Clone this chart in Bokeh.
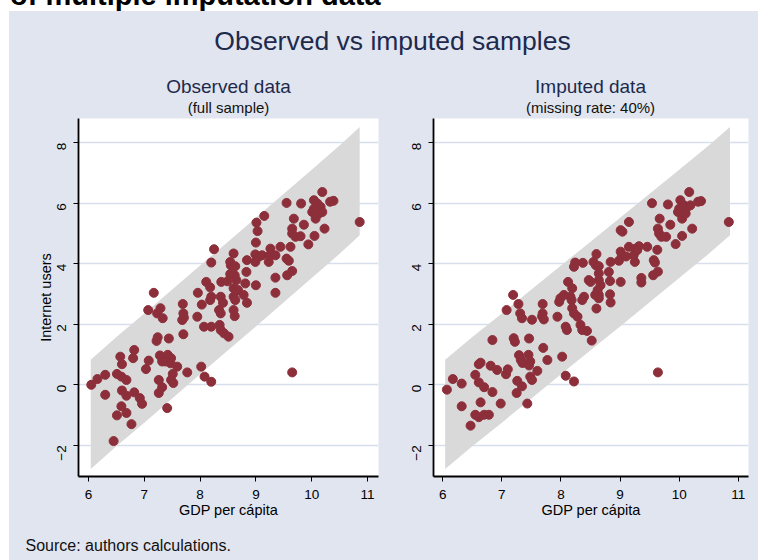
import math
from bokeh.plotting import figure
from bokeh.models import Range1d, FixedTicker, Div, Spacer
from bokeh.layouts import column, row
from bokeh.embed import file_html
from bokeh.resources import INLINE
from bokeh.core.properties import value

# ---------------- data ----------------
x_ticks = [6, 7, 8, 9, 10, 11]
y_ticks = [-2, 0, 2, 4, 6, 8]

band_x = [6.04, 6.5, 7.0, 7.5, 8.0, 8.5, 9.0, 9.5, 10.0, 10.5, 10.86]
band_lo = [-2.78, -2.03, -1.25, -0.45, 0.35, 1.14, 1.93, 2.73, 3.53, 4.33, 4.94]
band_hi = [0.83, 1.58, 2.36, 3.15, 3.94, 4.73, 5.52, 6.31, 7.11, 7.91, 8.52]

obs_pts = [
    (6.05, 0.00), (6.16, 0.19), (6.30, 0.33), (6.30, -0.33), (6.45, -1.86), (6.51, 0.36), (6.51, -1.01),
    (6.57, 0.93), (6.59, -0.71), (6.59, 0.27), (6.60, 0.68), (6.60, -0.19), (6.68, -0.36), (6.68, 0.16),
    (6.68, -0.93), (6.77, -1.30), (6.80, 0.88), (6.82, 1.15), (6.82, -0.25), (6.92, -0.44), (6.96, -0.63),
    (7.03, 0.52), (7.07, 2.47), (7.08, 0.80), (7.17, 3.04), (7.22, 1.45), (7.24, 1.57), (7.23, 2.36),
    (7.26, 0.16), (7.26, -0.27), (7.28, 0.97), (7.29, 2.53), (7.32, 0.77), (7.32, -0.08), (7.33, 2.20),
    (7.38, 0.77), (7.41, -0.77), (7.42, 0.99), (7.44, 1.53), (7.47, 0.71), (7.48, 0.88), (7.48, 0.16),
    (7.51, 0.36), (7.52, 0.06),
    (7.59, 0.60), (7.68, 2.14), (7.69, 2.67), (7.70, 2.36), (7.70, 1.67), (7.71, 2.22), (7.77, 0.41),
    (7.95, 2.25), (7.96, 3.04),
    (8.02, 0.60), (8.03, 2.65), (8.07, 1.92), (8.08, 0.27), (8.11, 3.40), (8.18, 3.22), (8.20, 2.91),
    (8.18, 2.80), (8.20, 1.92), (8.20, 0.10), (8.20, 4.04), (8.25, 4.48), (8.34, 2.47), (8.37, 2.36),
    (8.35, 1.98), (8.37, 2.91), (8.37, 1.81), (8.38, 3.40), (8.41, 2.71), (8.43, 1.70), (8.49, 3.42),
    (8.51, 1.59),
    (8.54, 3.66), (8.54, 4.06), (8.55, 3.95), (8.60, 4.34), (8.62, 3.62), (8.65, 3.46), (8.60, 3.19),
    (8.68, 3.13), (8.60, 2.91), (8.63, 2.80), (8.60, 2.47), (8.62, 2.27), (8.63, 3.92), (8.78, 2.97),
    (8.81, 3.35), (8.83, 3.73), (8.84, 4.12), (8.84, 2.71), (8.99, 4.31), (8.99, 4.06), (9.00, 3.29),
    (9.00, 4.70),
    (9.01, 5.36), (9.03, 5.08), (9.05, 4.23), (9.11, 4.28), (9.15, 5.58), (9.23, 4.06), (9.25, 4.28),
    (9.26, 4.50), (9.35, 4.28), (9.35, 3.54), (9.35, 3.04), (9.44, 4.56),
    (9.55, 6.01), (9.55, 4.17), (9.59, 4.10), (9.56, 3.62), (9.62, 4.56), (9.65, 3.76), (9.65, 5.16),
    (9.65, 5.00), (9.65, 0.41), (9.68, 5.49), (9.71, 4.89), (9.80, 4.91), (9.81, 5.99), (9.86, 5.29),
    (9.94, 4.64),
    (10.01, 5.71), (10.04, 6.10), (10.04, 5.82), (10.05, 4.92), (10.07, 5.49), (10.10, 5.99),
    (10.13, 5.66), (10.16, 5.88), (10.19, 5.71), (10.19, 6.37), (10.23, 5.16), (10.33, 6.05),
    (10.39, 6.08), (10.86, 5.38),
]

imp_pts = [
    (6.07, -0.16), (6.17, 0.19), (6.32, 0.04), (6.32, -0.71), (6.47, -1.35), (6.55, 0.33), (6.55, -0.99),
    (6.61, -1.07), (6.61, 0.68), (6.64, 0.73), (6.61, 0.08), (6.64, -0.58), (6.70, -0.08), (6.70, -0.99),
    (6.78, -0.99), (6.81, 0.63), (6.84, 1.48), (6.84, -0.24), (6.92, 0.49), (6.98, -0.62),
    (7.07, 0.35), (7.10, 0.51), (7.08, 2.47), (7.19, 2.97), (7.20, 1.54), (7.22, 1.42), (7.26, 0.13),
    (7.25, -0.27), (7.28, 2.67), (7.29, 0.98), (7.31, 2.36), (7.32, 0.82), (7.34, -0.05), (7.34, 2.20),
    (7.35, 0.72), (7.43, -0.62), (7.46, 1.53), (7.45, 0.99), (7.48, 0.77), (7.46, 0.64), (7.48, 0.27),
    (7.51, 0.16), (7.51, 2.15),
    (7.60, 0.46), (7.69, 2.67), (7.69, 2.36), (7.68, 2.26), (7.71, 2.16), (7.70, 1.22), (7.77, 0.82),
    (7.94, 2.25), (7.97, 2.74), (7.99, 2.86),
    (8.02, 0.93), (8.05, 2.97), (8.08, 0.30), (8.08, 1.92), (8.10, 1.81), (8.12, 3.40), (8.19, 3.19),
    (8.16, 2.91), (8.18, 2.80), (8.19, 2.53), (8.22, 2.36), (8.28, 2.25), (8.22, 0.11), (8.24, 4.04),
    (8.22, 3.90), (8.33, 1.98), (8.36, 1.81), (8.37, 4.03), (8.39, 2.91), (8.36, 2.80), (8.44, 1.78),
    (8.47, 3.46), (8.50, 3.40), (8.52, 1.46),
    (8.55, 4.06), (8.59, 3.95), (8.64, 3.92), (8.60, 4.32), (8.64, 3.68), (8.64, 3.46), (8.67, 3.29),
    (8.62, 3.13), (8.64, 2.97), (8.58, 2.97), (8.64, 2.86), (8.60, 2.52), (8.81, 3.73), (8.83, 3.43),
    (8.84, 4.06), (8.83, 2.99), (8.84, 2.72), (8.98, 4.10),
    (9.01, 4.40), (9.01, 3.40), (9.01, 5.11), (9.04, 5.06), (9.03, 4.28), (9.10, 4.24), (9.15, 5.38),
    (9.15, 4.56), (9.26, 4.50), (9.25, 4.06), (9.23, 4.28), (9.32, 4.58), (9.29, 4.45), (9.36, 3.53),
    (9.36, 3.38), (9.46, 4.56),
    (9.54, 6.00), (9.57, 4.12), (9.59, 4.04), (9.56, 3.62), (9.64, 3.74), (9.63, 4.46), (9.64, 0.41),
    (9.64, 5.16), (9.66, 5.00), (9.67, 5.49), (9.70, 4.89), (9.78, 4.89), (9.81, 5.96), (9.85, 5.29),
    (9.94, 4.65), (9.98, 5.71),
    (10.00, 5.82), (10.02, 6.10), (10.05, 5.49), (10.05, 4.92), (10.08, 5.93), (10.11, 5.66),
    (10.14, 5.88), (10.19, 5.93), (10.17, 6.37), (10.22, 5.16), (10.32, 6.05), (10.37, 6.07),
    (10.84, 5.38),
]

main_title = "Observed vs imputed samples"
sub_titles = ["Observed data", "Imputed data"]
sub_notes = ["(full sample)", "(missing rate: 40%)"]
x_label = "GDP per cápita"
y_label = "Internet users"
source_note = "Source: authors calculations."
heading = "of multiple imputation data"

# ---------------- style ----------------
PANEL_BG = "#E1E5EF"
MAROON = "#8C2F3A"
BAND = "#D9D9D9"
GRID = "#D7DEEC"
NAVY = "#1D2A4D"
FONT = "Liberation Sans"
BG_STYLE = {"background-color": PANEL_BG}


def make_panel(pts, width, b_left, b_right, xr, ylab):
    p = figure(width=width, height=402, x_range=Range1d(*xr), y_range=Range1d(-3.03, 8.80),
               toolbar_location=None, output_backend="svg",
               min_border_left=b_left, min_border_right=b_right,
               min_border_top=0, min_border_bottom=43, styles=BG_STYLE)
    p.background_fill_color = "white"
    p.border_fill_color = PANEL_BG
    p.outline_line_color = None
    p.varea(x=band_x, y1=band_lo, y2=band_hi, fill_color=BAND)
    xs = [a for a, b in pts]
    ys = [b for a, b in pts]
    p.scatter(xs, ys, size=9, fill_color=MAROON, line_color=MAROON)
    p.xgrid.visible = False
    p.ygrid.ticker = FixedTicker(ticks=y_ticks)
    p.ygrid.grid_line_color = GRID
    p.ygrid.grid_line_width = 1.5
    p.xaxis.ticker = FixedTicker(ticks=x_ticks)
    p.yaxis.ticker = FixedTicker(ticks=y_ticks)
    for ax in p.axis:
        ax.axis_line_color = "black"
        ax.axis_line_width = 1.8
        ax.major_tick_line_color = "black"
        ax.major_tick_line_width = 1
        ax.major_tick_out = 5
        ax.major_tick_in = 0
        ax.minor_tick_line_color = None
        ax.major_label_text_font = FONT
        ax.major_label_text_font_size = "13.5px"
        ax.major_label_text_color = "black"
        ax.axis_label_text_font = FONT
        ax.axis_label_text_font_size = "14.5px"
        ax.axis_label_text_font_style = "normal"
        ax.axis_label_text_color = "black"
    p.xaxis.axis_label = x_label
    p.xaxis.major_label_standoff = 8
    p.xaxis.axis_label_standoff = 0
    p.yaxis.major_label_orientation = math.pi / 2
    p.yaxis.major_label_standoff = 12
    if ylab:
        p.yaxis.axis_label = ylab
        p.yaxis.axis_label_standoff = -4
    return p


p1 = make_panel(obs_pts, 379, 69, 10, (5.821, 11.197), y_label)
p2 = make_panel(imp_pts, 370, 45, 10, (5.843, 11.173), None)

# title strip
top = figure(width=749, height=107, x_range=Range1d(0, 749), y_range=Range1d(107, 0),
             toolbar_location=None, output_backend="svg", x_axis_type=None, y_axis_type=None,
             min_border=0, styles=BG_STYLE)
top.grid.visible = False
top.outline_line_color = None
top.background_fill_color = PANEL_BG
top.border_fill_color = PANEL_BG
top.text(x=[383], y=[29], text=[main_title], text_font=value(FONT), text_font_size="26.5px",
         text_color=NAVY, text_align="center", text_baseline="middle")
top.text(x=[219, 581], y=[75, 75], text=sub_titles, text_font=value(FONT), text_font_size="19px",
         text_color=NAVY, text_align="center", text_baseline="middle")
top.text(x=[219, 581], y=[96, 96], text=sub_notes, text_font=value(FONT), text_font_size="15px",
         text_color="#111111", text_align="center", text_baseline="middle")

# source strip
bot = figure(width=749, height=40, x_range=Range1d(0, 749), y_range=Range1d(40, 0),
             toolbar_location=None, output_backend="svg", x_axis_type=None, y_axis_type=None,
             min_border=0, styles=BG_STYLE)
bot.grid.visible = False
bot.outline_line_color = None
bot.background_fill_color = PANEL_BG
bot.border_fill_color = PANEL_BG
bot.text(x=[16], y=[25], text=[source_note], text_font=value(FONT), text_font_size="16px",
         text_color="#111111", text_align="left", text_baseline="middle")

head = Div(text=('<div style="position:relative;top:-21px;left:10px;white-space:nowrap;'
                 'font-family:\'Liberation Sans\',Arial,sans-serif;font-weight:bold;'
                 'font-size:29px;line-height:normal;color:#000;">' + heading + '</div>'),
           width=759, height=11, margin=0, styles={"overflow": "visible"})

plots = row(p1, p2, styles=BG_STYLE)
panel = column(top, plots, bot, styles=BG_STYLE)
body = row(Spacer(width=9, height=549), panel)
layout = column(head, body)

open("out.html", "w").write(file_html(layout, INLINE))
